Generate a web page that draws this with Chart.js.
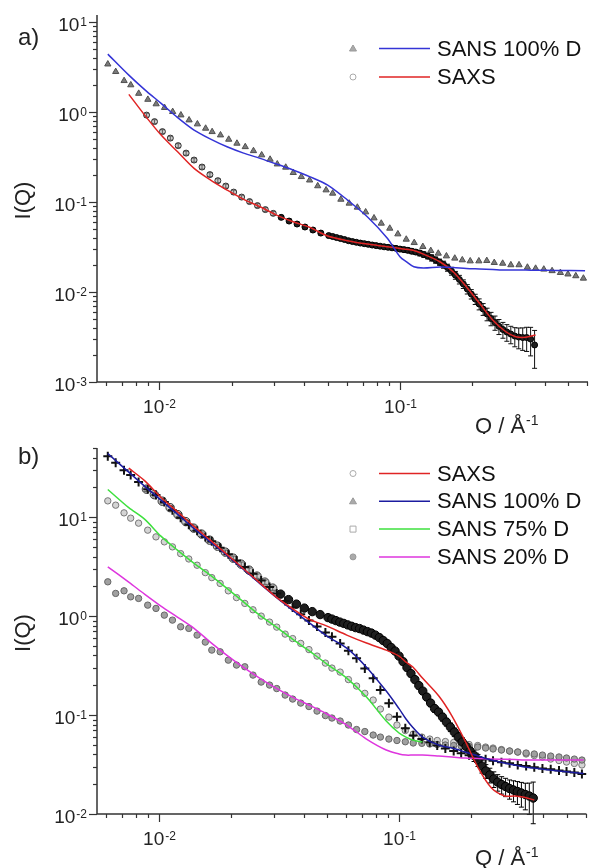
<!DOCTYPE html>
<html>
<head>
<meta charset="utf-8">
<script src="https://cdn.jsdelivr.net/npm/chart.js@4.4.0/dist/chart.umd.min.js"></script>
<style>
  body { margin: 0; background: #fff; }
  .panel { position: absolute; left: 0; width: 593px; height: 434px; }
</style>
</head>
<body>
<div class="panel" style="top:0"><canvas id="chartA"></canvas></div>
<div class="panel" style="top:434px"><canvas id="chartB"></canvas></div>
<script>
const FONT = '"Liberation Sans", Arial, sans-serif';

// SANS q-grid (shared by all SANS curves)
const qSans = [0.00610, 0.00658, 0.00713, 0.00760, 0.00820, 0.00895, 0.00969, 0.0105, 0.01135, 0.01228,
  0.01328, 0.01438, 0.01556, 0.01656, 0.01794, 0.01941, 0.0210, 0.02274, 0.02460, 0.02661,
  0.02884, 0.0309, 0.0335, 0.0360, 0.0389, 0.0421, 0.0455, 0.0493, 0.0525, 0.0568,
  0.0615, 0.0665, 0.0720, 0.0780, 0.0836, 0.0907, 0.0980, 0.1062, 0.1146, 0.1245,
  0.1343, 0.1443, 0.1560, 0.1690, 0.1816, 0.1959, 0.2128, 0.2296, 0.2466, 0.2673,
  0.2891, 0.3126, 0.3388, 0.3664, 0.3963, 0.4290, 0.4645, 0.4994, 0.5383, 0.5790];

// SAXS q-grid
const qSaxs = [0.00884, 0.00954, 0.01029, 0.01110, 0.01197, 0.01291, 0.01393, 0.01503, 0.01621, 0.01749,
  0.01887, 0.02035, 0.02196, 0.02369, 0.02556, 0.02756, 0.02973, 0.03208, 0.03460, 0.03733,
  0.04027, 0.04345, 0.04687, 0.05055,
  0.05250, 0.05452, 0.05663, 0.05882, 0.06109, 0.06345, 0.06589, 0.06844, 0.07108, 0.07382,
  0.07668, 0.07963, 0.08271, 0.08591, 0.08923, 0.09271, 0.09627, 0.1000, 0.1039, 0.1079,
  0.1121, 0.1164, 0.1209, 0.1256, 0.1304, 0.1354, 0.1407, 0.1461, 0.1518, 0.1576,
  0.1637, 0.1700, 0.1766, 0.1834, 0.1905, 0.1979, 0.2055, 0.2134, 0.2217, 0.2302,
  0.2391, 0.2484, 0.2579, 0.2679, 0.2782, 0.2890, 0.3002, 0.3117, 0.3238, 0.3363,
  0.3493, 0.3628];

// relative errors of the SAXS points
const saxsErr = [0.05, 0.05, 0.05, 0.05, 0.05, 0.05, 0.05, 0.05, 0.05, 0.05,
  0.05, 0.05, 0.05, 0.05, 0.05, 0.05, 0.05, 0.05, 0.05, 0.05,
  0.05, 0.05, 0.05, 0.05,
  0.04, 0.04, 0.04, 0.04, 0.04, 0.04, 0.04, 0.05, 0.05, 0.05,
  0.05, 0.05, 0.05, 0.05, 0.05, 0.05, 0.05, 0.06, 0.06, 0.06,
  0.06, 0.06, 0.07, 0.07, 0.07, 0.08, 0.08, 0.08, 0.09, 0.09,
  0.10, 0.10, 0.11, 0.11, 0.12, 0.12, 0.13, 0.14, 0.15, 0.16,
  0.17, 0.18, 0.19, 0.20, 0.21, 0.22, 0.24, 0.26, 0.28, 0.30,
  0.35, 0.45];

// model curves q-grid
const qFit = [0.00610, 0.00746, 0.00868, 0.01016, 0.01190, 0.01393, 0.01632, 0.01910, 0.02238, 0.02621,
  0.03068, 0.03594, 0.04210, 0.05006, 0.06052, 0.07314, 0.08842, 0.1000, 0.1069, 0.1142,
  0.1252, 0.1465, 0.1663, 0.1887, 0.2141, 0.2430, 0.2756, 0.3030, 0.3331, 0.3663,
  0.4428, 0.5882];

// panel a
const sans100A = [3.41, 2.81, 2.23, 2.00, 1.61, 1.38, 1.23, 1.12, 1.01, 0.926,
  0.815, 0.736, 0.659, 0.604, 0.555, 0.497, 0.449, 0.411, 0.371, 0.333,
  0.298, 0.264, 0.243, 0.212, 0.191, 0.175, 0.151, 0.136, 0.125, 0.107,
  0.0968, 0.0873, 0.0774, 0.0664, 0.0580, 0.0510, 0.0441, 0.0385, 0.0353, 0.0319,
  0.0288, 0.0269, 0.0251, 0.0237, 0.0227, 0.0221, 0.0221, 0.0223, 0.0212, 0.0208,
  0.0200, 0.0200, 0.0188, 0.0183, 0.0179, 0.0172, 0.0164, 0.0158, 0.0151, 0.0142];
const saxsA = [0.926, 0.784, 0.607, 0.514, 0.424, 0.350, 0.293, 0.245, 0.202, 0.173,
  0.1506, 0.1291, 0.1136, 0.1013, 0.0914, 0.0825, 0.0749, 0.0676, 0.0615, 0.0570,
  0.0528, 0.0489, 0.0452, 0.0424,
  0.0414, 0.0403, 0.0393, 0.0383, 0.0372, 0.0364, 0.0357, 0.0350, 0.0345, 0.0339,
  0.0333, 0.0328, 0.0323, 0.0318, 0.0314, 0.0310, 0.0306, 0.0300, 0.0296, 0.0291,
  0.0284, 0.0278, 0.0271, 0.0261, 0.0251, 0.0240, 0.0227, 0.0215, 0.0202, 0.0187,
  0.0171, 0.0154, 0.0138, 0.0123, 0.0108, 0.00950, 0.00836, 0.00736, 0.00647, 0.00570,
  0.00508, 0.00458, 0.00416, 0.00383, 0.00359, 0.00341, 0.00324, 0.00316, 0.00312, 0.00312,
  0.00300, 0.00258];
const fitA100 = [4.41, 2.577, 1.778, 1.249, 0.869, 0.631, 0.501, 0.4115, 0.350, 0.306,
  0.2644, 0.2268, 0.1920, 0.1545, 0.1053, 0.0687, 0.0398, 0.0247, 0.0215, 0.0191,
  0.0185, 0.01897, 0.01873, 0.01825, 0.01802, 0.01778, 0.01755, 0.01755, 0.01755, 0.01746,
  0.01738, 0.01725];
const fitASaxs = [null, 1.573, 0.926, 0.555, 0.362, 0.2367, 0.1755, 0.1359, 0.1072, 0.0887,
  0.0717, 0.0604, 0.0524, 0.0419, 0.0372, 0.0341, 0.0319, 0.0304, 0.0298, 0.0289,
  0.0264, 0.0217, 0.0168, 0.01145, 0.00749, 0.00489, 0.00362, 0.00319, 0.00314, 0.00333,
  null, null];

// panel b
const saxsB = [19.2, 16.88, 14.51, 12.47, 10.60, 9.01, 7.74, 6.74, 5.86, 5.09,
  4.43, 3.85, 3.35, 2.915, 2.535, 2.205, 1.918, 1.668, 1.468, 1.322,
  1.205, 1.110, 1.036, 0.966,
  0.933, 0.901, 0.870, 0.844, 0.815, 0.789, 0.765, 0.748, 0.722, 0.697,
  0.674, 0.643, 0.607, 0.566, 0.528, 0.481, 0.443, 0.3945, 0.347, 0.302,
  0.2626, 0.2284, 0.1986, 0.1747, 0.1520, 0.1322, 0.1163, 0.1072, 0.0954, 0.0850,
  0.0756, 0.0673, 0.0599, 0.0534, 0.0481, 0.0433, 0.0390, 0.0351, 0.0305, 0.0272,
  0.0248, 0.0226, 0.0210, 0.01986, 0.01896, 0.01810, 0.01747, 0.01688, 0.01630, 0.01574,
  0.01520, 0.01450];
const sans100B = [41.3, 35.4, 29.8, 26.6, 22.6, 19.2, 16.7, 14.27, 11.77, 9.88,
  8.40, 7.31, 6.32, 5.72, 4.92, 4.23, 3.64, 3.13, 2.687, 2.284,
  1.963, 1.688, 1.418, 1.219, 1.047, 0.901, 0.783, 0.681, 0.618, 0.530,
  0.446, 0.374, 0.296, 0.2348, 0.1789, 0.1313, 0.0961, 0.0734, 0.0621, 0.0572,
  0.0531, 0.0492, 0.0459, 0.0433, 0.0410, 0.0393, 0.0374, 0.0357, 0.0345, 0.0334,
  0.0325, 0.0313, 0.0305, 0.0296, 0.0289, 0.0283, 0.0275, 0.0269, 0.0262, 0.0254];
const sans75B = [14.61, 13.22, 11.05, 9.77, 8.70, 7.39, 6.32, 5.63, 5.01, 4.28,
  3.78, 3.27, 2.75, 2.448, 2.140, 1.801, 1.538, 1.344, 1.158, 1.000,
  0.870, 0.774, 0.658, 0.5925, 0.530, 0.4588, 0.3945, 0.335, 0.2984, 0.2718,
  0.2284, 0.1963, 0.1657, 0.1418, 0.1150, 0.0954, 0.0793, 0.0697, 0.0643, 0.0599,
  0.0572, 0.0553, 0.0540, 0.0528, 0.0515, 0.0504, 0.0492, 0.0475, 0.0464, 0.0448,
  0.0433, 0.0423, 0.0404, 0.0390, 0.0377, 0.0359, 0.0347, 0.0335, 0.0324, 0.0313];
const sans20B = [2.221, 1.696, 1.801, 1.566, 1.509, 1.291, 1.196, 1.023, 0.911, 0.780,
  0.751, 0.643, 0.546, 0.4535, 0.4358, 0.359, 0.320, 0.3075, 0.2535, 0.2154,
  0.2009, 0.1852, 0.1592, 0.1451, 0.1322, 0.1219, 0.1097, 0.0988, 0.0933, 0.0870,
  0.0793, 0.0714, 0.0681, 0.0628, 0.0599, 0.0572, 0.0553, 0.0537, 0.0522, 0.0518,
  0.0510, 0.0504, 0.0498, 0.0492, 0.0486, 0.0481, 0.0475, 0.0464, 0.0454, 0.0443,
  0.0433, 0.0423, 0.0413, 0.0404, 0.0394, 0.0385, 0.0377, 0.0368, 0.0359, 0.0351];
const fitBSaxs = [null, 31.3, 23.4, 15.92, 11.36, 8.11, 5.86, 4.23, 3.03, 2.180,
  1.566, 1.191, 0.933, 0.792, 0.643, 0.534, 0.4535, 0.3945, 0.343, 0.3054,
  0.2364, 0.1555, 0.0977, 0.0546, 0.0291, 0.0183, 0.01520, 0.01520, 0.01475, 0.01385,
  null, null];
const fitB100 = [44.0, 28.5, 20.6, 14.85, 10.72, 7.69, 5.63, 4.13, 2.98, 2.140,
  1.555, 1.150, 0.860, 0.628, 0.475, 0.305, 0.1747, 0.1160, 0.0911, 0.0747,
  0.0600, 0.0497, 0.0464, 0.0423, 0.0385, 0.0351, 0.0327, 0.0313, 0.0298, 0.0291,
  0.0275, 0.0256];
const fitB75 = [19.05, 12.47, 9.55, 6.43, 4.64, 3.43, 2.595, 1.918, 1.401, 1.023,
  0.780, 0.586, 0.448, 0.3275, 0.2364, 0.1520, 0.0870, 0.0658, 0.0599, 0.0559,
  0.0534, null, null, null, null, null, null, null, null, null,
  null, null];
const fitB20 = [3.15, 2.205, 1.668, 1.262, 0.977, 0.756, 0.546, 0.4038, 0.3054, 0.2364,
  0.1874, 0.1520, 0.1265, 0.1025, 0.0793, 0.0572, 0.0443, 0.0404, 0.0394, 0.0394,
  0.0394, 0.0385, 0.0377, 0.0368, 0.0364, 0.0359, 0.0357, 0.0355, 0.0351, 0.0351,
  0.0351, 0.0351];

const legendA = ['SANS 100% D', 'SAXS'];
const legendB = ['SAXS', 'SANS 100% D', 'SANS 75% D', 'SANS 20% D'];

const colors = {
  blueA: '#3434d6', blueB: '#1c1ca0', red: '#e02424', green: '#3ee03e', magenta: '#de36de',
};

const pts = (q, v) => q.map((x, i) => ({ x, y: v[i] })).filter(p => p.y != null);

function fitLine(label, values, color) {
  return {
    label, data: pts(qFit, values), showLine: true, borderColor: color, borderWidth: 1.5,
    pointRadius: 0, tension: 0.3, order: 0,
  };
}

function markers(label, q, values, style) {
  return Object.assign({ label, data: pts(q, values), showLine: false, order: 1 }, style);
}

function logTicks(min, max) {
  const out = [];
  for (let e = Math.floor(Math.log10(min)); e <= Math.ceil(Math.log10(max)); e++) {
    for (let s = 1; s < 10; s++) {
      const v = s * Math.pow(10, e);
      if (v >= min * 0.999 && v <= max * 1.001) out.push({ v, major: s === 1, e });
    }
  }
  return out;
}

function drawPow(ctx, exp, x, baseline, align) {
  const base = '10', sup = String(exp);
  ctx.font = '19px ' + FONT;
  const wb = ctx.measureText(base).width;
  ctx.font = '12px ' + FONT;
  const ws = ctx.measureText(sup).width;
  const w = wb + ws + 1;
  const left = align === 'right' ? x - w : x - w / 2;
  ctx.textAlign = 'left';
  ctx.textBaseline = 'alphabetic';
  ctx.font = '19px ' + FONT;
  ctx.fillText(base, left, baseline);
  ctx.font = '12px ' + FONT;
  ctx.fillText(sup, left + wb + 1, baseline - 5);
}

function drawMarker(ctx, m, x, y) {
  ctx.save();
  ctx.fillStyle = m.fill;
  ctx.strokeStyle = m.stroke;
  ctx.lineWidth = 1;
  ctx.beginPath();
  if (m.style === 'triangle') {
    ctx.moveTo(x, y - 3.5); ctx.lineTo(x + 3.5, y + 2.5); ctx.lineTo(x - 3.5, y + 2.5); ctx.closePath();
  } else if (m.style === 'rect') {
    ctx.rect(x - 3, y - 3, 6, 6);
  } else {
    ctx.arc(x, y, 3, 0, Math.PI * 2);
  }
  ctx.fill();
  ctx.stroke();
  ctx.restore();
}

const errorBars = {
  id: 'errorBars',
  beforeDatasetsDraw(chart) {
    const { ctx, scales: { y } } = chart;
    chart.data.datasets.forEach((ds, i) => {
      if (!ds.errRel) return;
      const meta = chart.getDatasetMeta(i);
      ctx.save();
      ctx.strokeStyle = ds.errColor;
      ctx.lineWidth = 1;
      meta.data.forEach((pt, j) => {
        const v = ds.data[j].y, e = ds.errRel[j];
        const y1 = y.getPixelForValue(v * (1 + e));
        const y2 = y.getPixelForValue(v * (1 - e));
        ctx.beginPath();
        ctx.moveTo(pt.x, y1); ctx.lineTo(pt.x, y2);
        ctx.moveTo(pt.x - 2.5, y1); ctx.lineTo(pt.x + 2.5, y1);
        ctx.moveTo(pt.x - 2.5, y2); ctx.lineTo(pt.x + 2.5, y2);
        ctx.stroke();
      });
      ctx.restore();
    });
  },
};

const decor = {
  id: 'decor',
  afterDraw(chart, args, opts) {
    const { ctx, chartArea: a, scales: { x, y } } = chart;
    ctx.save();
    ctx.strokeStyle = '#333';
    ctx.fillStyle = '#222';
    ctx.lineWidth = 1.5;
    ctx.beginPath();
    ctx.moveTo(a.left, a.top);
    ctx.lineTo(a.left, a.bottom);
    ctx.lineTo(a.right, a.bottom);
    ctx.stroke();

    ctx.lineWidth = 1.2;
    for (const t of logTicks(y.min, y.max)) {
      const py = Math.round(y.getPixelForValue(t.v)) + 0.5;
      const len = t.major ? 8 : 4;
      ctx.beginPath();
      ctx.moveTo(a.left - len, py);
      ctx.lineTo(a.left, py);
      ctx.stroke();
      if (t.major) drawPow(ctx, t.e, a.left - 10, py + 8.8, 'right');
    }
    for (const t of logTicks(x.min, x.max)) {
      const px = Math.round(x.getPixelForValue(t.v)) + 0.5;
      const len = t.major ? 8 : 4;
      ctx.beginPath();
      ctx.moveTo(px, a.bottom);
      ctx.lineTo(px, a.bottom + len);
      ctx.stroke();
      if (t.major) drawPow(ctx, t.e, px, a.bottom + 31, 'center');
    }

    // axis titles
    ctx.fillStyle = '#222';
    ctx.font = '22px ' + FONT;
    ctx.textAlign = 'left';
    ctx.textBaseline = 'alphabetic';
    const tx = 475, ty = a.bottom + 51;
    ctx.fillText('Q / Å', tx, ty);
    const wq = ctx.measureText('Q / Å').width;
    ctx.font = '14px ' + FONT;
    ctx.fillText('-1', tx + wq + 1, ty - 8);

    ctx.save();
    ctx.translate(24, (a.top + a.bottom) / 2 + 2);
    ctx.rotate(-Math.PI / 2);
    ctx.font = '22px ' + FONT;
    ctx.textAlign = 'center';
    ctx.textBaseline = 'middle';
    ctx.fillText('I(Q)', 0, 0);
    ctx.restore();

    // panel label
    ctx.font = '24px ' + FONT;
    ctx.textAlign = 'left';
    ctx.textBaseline = 'alphabetic';
    ctx.fillText(opts.panel, 18, opts.panelY);

    // legend
    opts.legend.forEach((r, i) => {
      const ly = opts.legendY + i * opts.legendGap;
      drawMarker(ctx, r.marker, 353, ly);
      ctx.strokeStyle = r.color;
      ctx.lineWidth = 1.5;
      ctx.beginPath();
      ctx.moveTo(379, ly);
      ctx.lineTo(430, ly);
      ctx.stroke();
      ctx.fillStyle = '#111';
      ctx.font = '22px ' + FONT;
      ctx.textAlign = 'left';
      ctx.textBaseline = 'middle';
      ctx.fillText(r.text, 437, ly + 1);
    });
    ctx.restore();
  },
};

function options(yMin, yMax, padTop, xHeight, decorOpts) {
  const axis = (min, max, fit) => ({
    type: 'logarithmic', min, max,
    grid: { display: false }, border: { display: false }, ticks: { display: false },
    afterFit: fit,
  });
  return {
    animation: false,
    responsive: true,
    maintainAspectRatio: false,
    devicePixelRatio: 1,
    layout: { padding: { top: padTop, right: 0, bottom: 0, left: 0 } },
    plugins: { legend: { display: false }, tooltip: { enabled: false }, decor: decorOpts },
    scales: {
      x: axis(0.0055, 0.605, s => { s.height = xHeight; }),
      y: axis(yMin, yMax, s => { s.width = 97; }),
    },
  };
}

// dense SAXS region renders as a dark band, sparse low-q points stay grey
function saxsStyle(qDense, radius) {
  return {
    pointStyle: 'circle',
    pointRadius: radius,
    pointBackgroundColor: c => (c.raw && c.raw.x > qDense ? '#1e1e1e' : 'rgba(160,160,160,0.55)'),
    pointBorderColor: c => (c.raw && c.raw.x > qDense ? '#000' : '#333'),
    pointBorderWidth: 1,
  };
}

new Chart(document.getElementById('chartA'), {
  type: 'scatter',
  data: {
    datasets: [
      fitLine(legendA[0], fitA100, colors.blueA),
      fitLine(legendA[1], fitASaxs, colors.red),
      markers(legendA[0], qSans, sans100A, { pointStyle: 'triangle', pointRadius: 3.6, pointBackgroundColor: '#7a7a7a', pointBorderColor: '#505050', pointBorderWidth: 1 }),
      Object.assign(markers(legendA[1], qSaxs, saxsA, saxsStyle(0.03, 3)), { errRel: saxsErr, errColor: '#111' }),
    ],
  },
  options: options(0.001, 12, 15, 52, {
    panel: 'a)', panelY: 45, legendY: 48.5, legendGap: 28.5,
    legend: [
      { text: legendA[0], color: colors.blueA, marker: { style: 'triangle', fill: '#aaa', stroke: '#999' } },
      { text: legendA[1], color: colors.red, marker: { style: 'circle', fill: '#fff', stroke: '#aaa' } },
    ],
  }),
  plugins: [errorBars, decor],
});

new Chart(document.getElementById('chartB'), {
  type: 'scatter',
  data: {
    datasets: [
      fitLine(legendB[0], fitBSaxs, colors.red),
      fitLine(legendB[1], fitB100, colors.blueB),
      fitLine(legendB[2], fitB75, colors.green),
      fitLine(legendB[3], fitB20, colors.magenta),
      markers(legendB[3], qSans, sans20B, { pointStyle: 'circle', pointRadius: 3.2, pointBackgroundColor: '#a0a0a0', pointBorderColor: '#666', pointBorderWidth: 1, order: 3 }),
      markers(legendB[2], qSans, sans75B, { pointStyle: 'circle', pointRadius: 3.2, pointBackgroundColor: '#d4d4d4', pointBorderColor: '#777', pointBorderWidth: 1, order: 3 }),
      Object.assign(markers(legendB[0], qSaxs, saxsB, saxsStyle(0.03, 4.2)), { errRel: saxsErr, errColor: '#000', order: 2 }),
      markers(legendB[1], qSans, sans100B, { pointStyle: 'cross', pointRadius: 4.5, pointBorderColor: '#111', pointBorderWidth: 2, order: 1 }),
    ],
  },
  options: options(0.01, 50, 14, 54, {
    panel: 'b)', panelY: 30, legendY: 39.5, legendGap: 27.8,
    legend: [
      { text: legendB[0], color: colors.red, marker: { style: 'circle', fill: '#fff', stroke: '#aaa' } },
      { text: legendB[1], color: colors.blueB, marker: { style: 'triangle', fill: '#aaa', stroke: '#999' } },
      { text: legendB[2], color: colors.green, marker: { style: 'rect', fill: '#fff', stroke: '#aaa' } },
      { text: legendB[3], color: colors.magenta, marker: { style: 'circle', fill: '#aaa', stroke: '#999' } },
    ],
  }),
  plugins: [errorBars, decor],
});
</script>
</body>
</html>
